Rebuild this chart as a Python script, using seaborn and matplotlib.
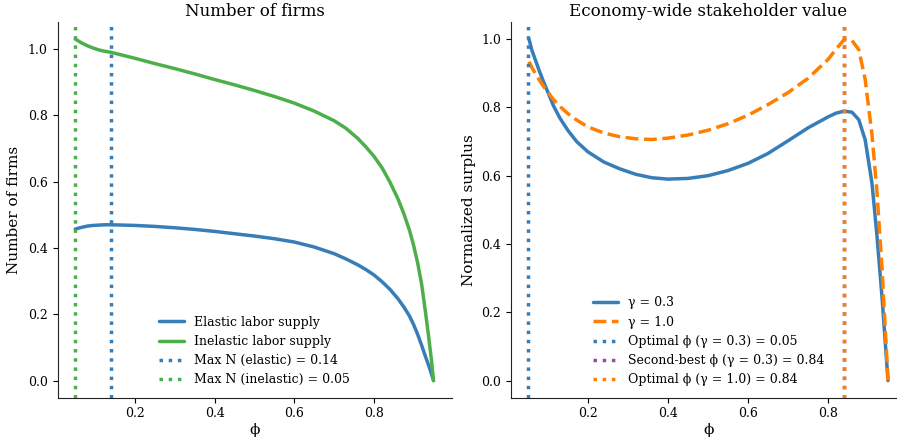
import numpy as np
import pandas as pd
import matplotlib
matplotlib.use('Agg')
import matplotlib.pyplot as plt
import seaborn as sns

# values
phi_firms = [0.05, 0.065, 0.08, 0.095, 0.11, 0.125, 0.14, 0.17, 0.2, 0.25, 0.3, 0.35,
             0.4, 0.45, 0.5, 0.55, 0.6, 0.65, 0.7, 0.73, 0.76, 0.78, 0.8, 0.82, 0.84,
             0.86, 0.875, 0.89, 0.9, 0.91, 0.92, 0.93, 0.938, 0.945, 0.95]
n_elastic = [0.457, 0.462, 0.466, 0.468, 0.469, 0.470, 0.470, 0.469, 0.468, 0.465,
             0.461, 0.456, 0.450, 0.443, 0.436, 0.428, 0.418, 0.403, 0.383, 0.367,
             0.349, 0.335, 0.319, 0.299, 0.276, 0.248, 0.223, 0.194, 0.169, 0.140,
             0.107, 0.072, 0.045, 0.020, 0.0]
n_inelastic = [1.030, 1.019, 1.010, 1.003, 0.997, 0.993, 0.990, 0.981, 0.972, 0.956,
               0.941, 0.925, 0.908, 0.892, 0.875, 0.857, 0.837, 0.813, 0.784, 0.761,
               0.730, 0.705, 0.677, 0.643, 0.600, 0.550, 0.505, 0.452, 0.408, 0.356,
               0.292, 0.205, 0.130, 0.060, 0.0]

phi_surplus = [0.053, 0.06, 0.07, 0.08, 0.09, 0.1, 0.114, 0.13, 0.15, 0.172, 0.2,
               0.24, 0.28, 0.32, 0.36, 0.4, 0.45, 0.5, 0.55, 0.6, 0.65, 0.7, 0.75,
               0.8, 0.82, 0.84, 0.86, 0.877, 0.893, 0.91, 0.922, 0.935, 0.95]
s_gamma03 = [1.0, 0.968, 0.935, 0.903, 0.873, 0.845, 0.805, 0.769, 0.733, 0.700, 0.670,
             0.640, 0.620, 0.604, 0.594, 0.590, 0.592, 0.600, 0.615, 0.636, 0.665,
             0.702, 0.740, 0.772, 0.783, 0.789, 0.786, 0.764, 0.705, 0.578, 0.430,
             0.246, 0.0]
s_gamma10 = [0.934, 0.917, 0.897, 0.878, 0.860, 0.845, 0.823, 0.803, 0.782, 0.763,
             0.743, 0.725, 0.714, 0.708, 0.706, 0.710, 0.719, 0.733, 0.752, 0.777,
             0.808, 0.843, 0.885, 0.940, 0.970, 0.998, 0.996, 0.969, 0.882, 0.720,
             0.560, 0.330, 0.0]

max_n_elastic = 0.14
max_n_inelastic = 0.05
opt_phi_03 = 0.05
second_phi_03 = 0.84
opt_phi_10 = 0.84

df_firms = pd.DataFrame({'phi': phi_firms, 'elastic': n_elastic, 'inelastic': n_inelastic})
df_surp = pd.DataFrame({'phi': phi_surplus, 'g03': s_gamma03, 'g10': s_gamma10})

sns.set_style('ticks')
plt.rcParams['font.family'] = ['DejaVu Serif', 'DejaVu Sans']
plt.rcParams['text.color'] = 'black'
plt.rcParams['axes.labelcolor'] = 'black'
plt.rcParams['xtick.color'] = 'black'
plt.rcParams['ytick.color'] = 'black'
plt.rcParams['axes.edgecolor'] = '#222222'

blue = '#377eb8'
green = '#4daf4a'
orange = '#ff7f00'
purple = '#984ea3'

fig = plt.figure(figsize=(8.97, 4.42), dpi=100)
ax1 = fig.add_axes([57.5 / 897, 44.3 / 442, 394.2 / 897, 375.7 / 442])
ax2 = fig.add_axes([511 / 897, 44.3 / 442, 395 / 897, 375.7 / 442])

# left panel: number of firms
sns.lineplot(data=df_firms, x='phi', y='elastic', ax=ax1, color=blue, lw=2.5,
             label='Elastic labor supply')
sns.lineplot(data=df_firms, x='phi', y='inelastic', ax=ax1, color=green, lw=2.5,
             label='Inelastic labor supply')
ax1.axvline(max_n_elastic, color=blue, ls=':', lw=2.5,
            label=f'Max N (elastic) = {max_n_elastic:.2f}')
ax1.axvline(max_n_inelastic, color=green, ls=':', lw=2.5,
            label=f'Max N (inelastic) = {max_n_inelastic:.2f}')
ax1.set_xlim(0.0053, 0.9957)
ax1.set_ylim(-0.0515, 1.0815)
ax1.set_title('Number of firms', fontsize=12, pad=4)
ax1.set_xlabel('ϕ', fontsize=11, labelpad=2)
ax1.set_ylabel('Number of firms', fontsize=11, labelpad=5)
ax1.legend(loc='lower center', frameon=False, fontsize=9)

# right panel: stakeholder value
sns.lineplot(data=df_surp, x='phi', y='g03', ax=ax2, color=blue, lw=2.5, label='γ = 0.3')
sns.lineplot(data=df_surp, x='phi', y='g10', ax=ax2, color=orange, lw=2.5, ls='--',
             label='γ = 1.0')
ax2.axvline(opt_phi_03, color=blue, ls=':', lw=2.5,
            label=f'Optimal ϕ (γ = 0.3) = {opt_phi_03:.2f}')
ax2.axvline(second_phi_03, color=purple, ls=':', lw=2.5,
            label=f'Second-best ϕ (γ = 0.3) = {second_phi_03:.2f}')
ax2.axvline(opt_phi_10, color=orange, ls=':', lw=2.5,
            label=f'Optimal ϕ (γ = 1.0) = {opt_phi_10:.2f}')
ax2.set_xlim(0.008, 0.995)
ax2.set_ylim(-0.05, 1.05)
ax2.set_title('Economy-wide stakeholder value', fontsize=12, pad=4)
ax2.set_xlabel('ϕ', fontsize=11, labelpad=2)
ax2.set_ylabel('Normalized surplus', fontsize=11)
ax2.legend(loc='lower center', frameon=False, fontsize=9)

for ax in (ax1, ax2):
    ax.set_xticks([0.2, 0.4, 0.6, 0.8])
    ax.set_yticks([0.0, 0.2, 0.4, 0.6, 0.8, 1.0])
    ax.tick_params(labelsize=9)
    sns.despine(ax=ax)

fig.savefig('out.png', dpi=100)
